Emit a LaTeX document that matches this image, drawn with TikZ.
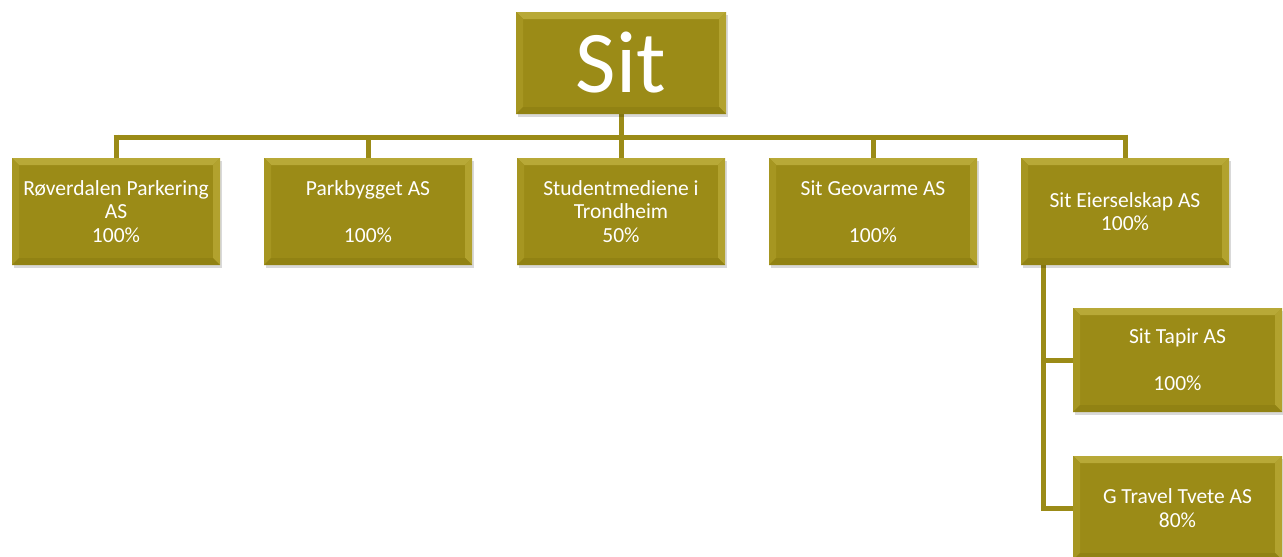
\documentclass[tikz,border=0pt]{standalone}
\usepackage{fontspec}
\setmainfont{Carlito}
\usetikzlibrary{shadows}
\definecolor{olive}{RGB}{155,139,23}
\definecolor{olivelight}{RGB}{184,169,55}
\definecolor{oliveedge}{RGB}{166,150,33}
\definecolor{oliveright}{RGB}{178,162,46}
\definecolor{olivebot}{RGB}{145,130,19}
\tikzset{
  bevelbox/.style={
    rectangle, fill=olive, inner sep=0pt, text=white, align=center,
    font=\fontsize{21.5}{23.5}\selectfont,
    drop shadow={shadow xshift=2pt, shadow yshift=-3pt, opacity=0.15, fill=black},
    path picture={
      \coordinate (nw) at (path picture bounding box.north west);
      \coordinate (ne) at (path picture bounding box.north east);
      \coordinate (sw) at (path picture bounding box.south west);
      \coordinate (se) at (path picture bounding box.south east);
      \fill[olivelight] (nw) -- (ne) -- ([shift={(-7pt,-7pt)}]ne) -- ([shift={(7pt,-7pt)}]nw) -- cycle;
      \fill[oliveedge] (nw) -- ([shift={(7pt,-7pt)}]nw) -- ([shift={(7pt,7pt)}]sw) -- (sw) -- cycle;
      \fill[oliveright] (ne) -- ([shift={(-7pt,-7pt)}]ne) -- ([shift={(-7pt,7pt)}]se) -- (se) -- cycle;
      \fill[olivebot] (sw) -- ([shift={(7pt,7pt)}]sw) -- ([shift={(-7pt,7pt)}]se) -- (se) -- cycle;
    }
  },
  lvl/.style={bevelbox, minimum width=208pt, minimum height=107pt},
  sub/.style={bevelbox, minimum width=209pt, minimum height=104pt},
  conn/.style={draw=olive, line width=5pt},
}
\begin{document}
\begin{tikzpicture}[x=1pt,y=-1pt]
\useasboundingbox (0,0) rectangle (1283,557);
% connectors first
\coordinate (busL) at (116,137);
\coordinate (busR) at (1125,137);
\coordinate (c1) at (116,137);
\coordinate (c2) at (368,137);
\coordinate (c4) at (873,137);
\coordinate (c5) at (1125,137);
\coordinate (vb) at (1043,508);
\coordinate (vm) at (1043,360);
\draw[conn] ([xshift=-2.5pt]busL) -- ([xshift=2.5pt]busR);
\draw[conn] (116,134.5) -- (116,165);
\draw[conn] (c2) -- (368,165);
\draw[conn] (621,100) -- (621,165);
\draw[conn] (c4) -- (873,165);
\draw[conn] (1125,134.5) -- (1125,165);
\draw[conn, line join=miter] (1043,255) -- (vb) -- (1080,508);
\draw[conn] (vm) -- (1080,360);

\node[bevelbox, minimum width=210pt, minimum height=102pt, font=\fontsize{88}{96}\selectfont] (sit) at (621,63) {Sit};
\node[lvl] (rov) at (116,211.5) {Røverdalen Parkering\\AS\\100\%};
\node[lvl] (park) at (368,211.5) {Parkbygget AS\\ \\100\%};
\node[lvl] (stud) at (621,211.5) {Studentmediene i\\Trondheim\\50\%};
\node[lvl] (geo) at (873,211.5) {Sit Geovarme AS\\ \\100\%};
\node[lvl] (eier) at (1125,211.5) {Sit Eierselskap AS\\100\%};
\node[sub] (tapir) at (1177.5,360) {Sit Tapir AS\\ \\100\%};
\node[sub] (travel) at (1177.5,508) {G Travel Tvete AS\\80\%};
\end{tikzpicture}
\end{document}
